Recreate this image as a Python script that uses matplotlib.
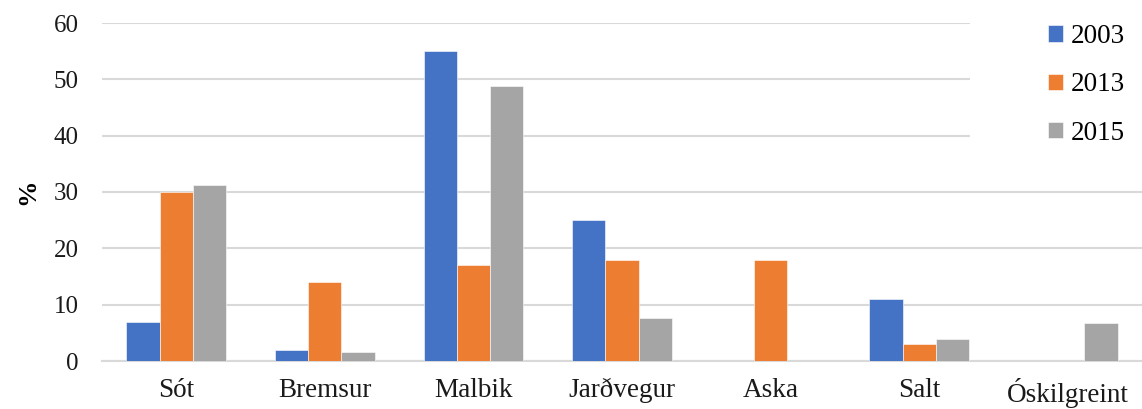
import numpy as np
import matplotlib
matplotlib.use('Agg')
import matplotlib.pyplot as plt
from matplotlib.patches import Rectangle

plt.rcParams['font.family'] = ['Liberation Serif', 'DejaVu Serif']

categories = ['Sót', 'Bremsur', 'Malbik', 'Jarðvegur', 'Aska', 'Salt', 'Óskilgreint']
years = ['2003', '2013', '2015']
vals_2003 = [7, 2, 55, 25, 0, 11, 0]
vals_2013 = [30, 14, 17, 18, 18, 3, 0]
vals_2015 = [31.2, 1.6, 48.8, 7.7, 0, 3.9, 6.8]
colors = ['#4472C4', '#ED7D31', '#A5A5A5']
yticks = [0, 10, 20, 30, 40, 50, 60]

fig = plt.figure(figsize=(11.42, 4.09), dpi=100)
ax = fig.add_axes([102 / 1142, 48 / 409, 1 - 102 / 1142, 338 / 409])

x = np.arange(len(categories))
w = 0.224
series = [vals_2003, vals_2013, vals_2015]
for i, (vals, lab, c) in enumerate(zip(series, years, colors)):
    ax.bar(x + (i - 1) * w, vals, width=w, color=c, label=lab,
           edgecolor='white', linewidth=0.4, zorder=3)

ax.set_xlim(-0.5, len(categories) - 0.5)
ax.set_ylim(0, 60)
ax.set_yticks(yticks)
ax.set_xticks(x)
ax.set_xticklabels(categories, fontsize=19.5)
ax.grid(axis='y', color='#d9d9d9', linewidth=1.5, zorder=0)
for s in ['top', 'right', 'left']:
    ax.spines[s].set_visible(False)
ax.spines['bottom'].set_color('#d9d9d9')
ax.spines['bottom'].set_linewidth(1.5)
ax.tick_params(axis='both', length=0, colors='#1a1a1a')
ax.tick_params(axis='y', labelsize=18, pad=17)
ax.tick_params(axis='x', pad=12)
ax.set_ylabel('%', fontsize=19, fontweight='bold', labelpad=10)

# white box behind legend
fig.add_artist(Rectangle((970 / 1142, 0.585), 1 - 970 / 1142, 0.415,
                         transform=fig.transFigure, facecolor='white',
                         edgecolor='none', zorder=2))

leg = fig.legend(loc='upper left', bbox_to_anchor=(1048 / 1142, 1 - 24 / 409),
                 fontsize=19.5, frameon=False, handlelength=0.55,
                 handleheight=0.55, handletextpad=0.28, labelspacing=0.86,
                 borderaxespad=0, borderpad=0)
leg.set_zorder(5)

fig.savefig('out.png', dpi=100)
